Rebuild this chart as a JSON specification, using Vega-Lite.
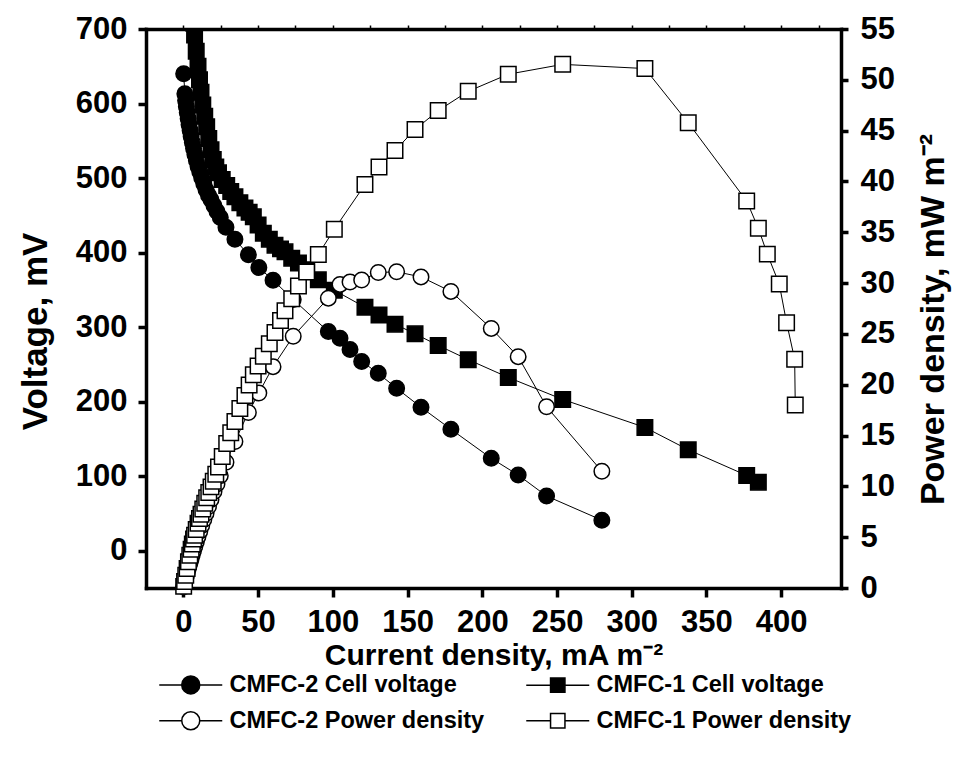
{
  "$schema": "https://vega.github.io/schema/vega-lite/v6.json",
  "width": 695,
  "height": 559,
  "autosize": {"type": "none"},
  "padding": {"left": 146, "top": 29, "right": 115, "bottom": 175},
  "background": "white",
  "config": {
    "view": {"stroke": null},
    "axis": {
      "grid": false,
      "domainColor": "black",
      "domainWidth": 3.5,
      "domainCap": "square",
      "tickColor": "black",
      "tickWidth": 3.5,
      "tickSize": 9,
      "labelFont": "Liberation Sans",
      "labelFontWeight": "bold",
      "labelFontSize": 31,
      "labelColor": "black",
      "labelPadding": 10.5,
      "titleFont": "Liberation Sans",
      "titleFontWeight": "bold",
      "titleColor": "black"
    },
    "legend": {
      "title": null,
      "orient": "none",
      "legendX": 33,
      "legendY": 644,
      "direction": "horizontal",
      "columns": 2,
      "padding": 0,
      "symbolSize": 324,
      "symbolStrokeWidth": 1.5,
      "symbolOpacity": 1,
      "labelFont": "Liberation Sans",
      "labelFontWeight": "bold",
      "labelFontSize": 23.5,
      "labelColor": "black",
      "labelLimit": 500,
      "labelOffset": 27,
      "columnPadding": 38,
      "rowPadding": 11
    }
  },
  "data": {
    "values": [
      {"s": "CMFC-2 Cell voltage", "cd": 0.2, "v": 640},
      {"s": "CMFC-2 Cell voltage", "cd": 1.0, "v": 613},
      {"s": "CMFC-2 Cell voltage", "cd": 1.5, "v": 604},
      {"s": "CMFC-2 Cell voltage", "cd": 2.0, "v": 596},
      {"s": "CMFC-2 Cell voltage", "cd": 2.6, "v": 588},
      {"s": "CMFC-2 Cell voltage", "cd": 3.2, "v": 580},
      {"s": "CMFC-2 Cell voltage", "cd": 3.8, "v": 572},
      {"s": "CMFC-2 Cell voltage", "cd": 4.5, "v": 564},
      {"s": "CMFC-2 Cell voltage", "cd": 5.2, "v": 556},
      {"s": "CMFC-2 Cell voltage", "cd": 6.0, "v": 548},
      {"s": "CMFC-2 Cell voltage", "cd": 6.8, "v": 540},
      {"s": "CMFC-2 Cell voltage", "cd": 7.7, "v": 532},
      {"s": "CMFC-2 Cell voltage", "cd": 8.7, "v": 524},
      {"s": "CMFC-2 Cell voltage", "cd": 9.8, "v": 516},
      {"s": "CMFC-2 Cell voltage", "cd": 11.0, "v": 508},
      {"s": "CMFC-2 Cell voltage", "cd": 12.3, "v": 500},
      {"s": "CMFC-2 Cell voltage", "cd": 13.7, "v": 492},
      {"s": "CMFC-2 Cell voltage", "cd": 15.2, "v": 484},
      {"s": "CMFC-2 Cell voltage", "cd": 16.8, "v": 477},
      {"s": "CMFC-2 Cell voltage", "cd": 18.5, "v": 471},
      {"s": "CMFC-2 Cell voltage", "cd": 20.5, "v": 463},
      {"s": "CMFC-2 Cell voltage", "cd": 22.5, "v": 455},
      {"s": "CMFC-2 Cell voltage", "cd": 24.7, "v": 447},
      {"s": "CMFC-2 Cell voltage", "cd": 28.5, "v": 434},
      {"s": "CMFC-2 Cell voltage", "cd": 34.5, "v": 418},
      {"s": "CMFC-2 Cell voltage", "cd": 43.5, "v": 397},
      {"s": "CMFC-2 Cell voltage", "cd": 50.5, "v": 380},
      {"s": "CMFC-2 Cell voltage", "cd": 60, "v": 363},
      {"s": "CMFC-2 Cell voltage", "cd": 73.5, "v": 337},
      {"s": "CMFC-2 Cell voltage", "cd": 97, "v": 294},
      {"s": "CMFC-2 Cell voltage", "cd": 104.8, "v": 285},
      {"s": "CMFC-2 Cell voltage", "cd": 111.5, "v": 270},
      {"s": "CMFC-2 Cell voltage", "cd": 119.3, "v": 254},
      {"s": "CMFC-2 Cell voltage", "cd": 130.4, "v": 238},
      {"s": "CMFC-2 Cell voltage", "cd": 142.7, "v": 218},
      {"s": "CMFC-2 Cell voltage", "cd": 159, "v": 192.5},
      {"s": "CMFC-2 Cell voltage", "cd": 179, "v": 163},
      {"s": "CMFC-2 Cell voltage", "cd": 206, "v": 124},
      {"s": "CMFC-2 Cell voltage", "cd": 224, "v": 101.6},
      {"s": "CMFC-2 Cell voltage", "cd": 243, "v": 73.4},
      {"s": "CMFC-2 Cell voltage", "cd": 280, "v": 41},

      {"s": "CMFC-1 Cell voltage", "cd": 0.2, "v": 798},
      {"s": "CMFC-1 Cell voltage", "cd": 0.8, "v": 790},
      {"s": "CMFC-1 Cell voltage", "cd": 1.6, "v": 781},
      {"s": "CMFC-1 Cell voltage", "cd": 2.5, "v": 771},
      {"s": "CMFC-1 Cell voltage", "cd": 3.4, "v": 760},
      {"s": "CMFC-1 Cell voltage", "cd": 4.3, "v": 748},
      {"s": "CMFC-1 Cell voltage", "cd": 5.2, "v": 735},
      {"s": "CMFC-1 Cell voltage", "cd": 6.0, "v": 722},
      {"s": "CMFC-1 Cell voltage", "cd": 6.8, "v": 708},
      {"s": "CMFC-1 Cell voltage", "cd": 7.5, "v": 692},
      {"s": "CMFC-1 Cell voltage", "cd": 8.6, "v": 670},
      {"s": "CMFC-1 Cell voltage", "cd": 9.8, "v": 650},
      {"s": "CMFC-1 Cell voltage", "cd": 10.8, "v": 632},
      {"s": "CMFC-1 Cell voltage", "cd": 11.8, "v": 615},
      {"s": "CMFC-1 Cell voltage", "cd": 13.0, "v": 598},
      {"s": "CMFC-1 Cell voltage", "cd": 14.3, "v": 583},
      {"s": "CMFC-1 Cell voltage", "cd": 15.6, "v": 569},
      {"s": "CMFC-1 Cell voltage", "cd": 17.0, "v": 553},
      {"s": "CMFC-1 Cell voltage", "cd": 18.5, "v": 538},
      {"s": "CMFC-1 Cell voltage", "cd": 20.0, "v": 525},
      {"s": "CMFC-1 Cell voltage", "cd": 21.7, "v": 515},
      {"s": "CMFC-1 Cell voltage", "cd": 23.5, "v": 507},
      {"s": "CMFC-1 Cell voltage", "cd": 26.0, "v": 498},
      {"s": "CMFC-1 Cell voltage", "cd": 29.0, "v": 490},
      {"s": "CMFC-1 Cell voltage", "cd": 31.7, "v": 482},
      {"s": "CMFC-1 Cell voltage", "cd": 34.5, "v": 475},
      {"s": "CMFC-1 Cell voltage", "cd": 37.8, "v": 467},
      {"s": "CMFC-1 Cell voltage", "cd": 41.2, "v": 460},
      {"s": "CMFC-1 Cell voltage", "cd": 44.0, "v": 454},
      {"s": "CMFC-1 Cell voltage", "cd": 46.8, "v": 448},
      {"s": "CMFC-1 Cell voltage", "cd": 50.0, "v": 437},
      {"s": "CMFC-1 Cell voltage", "cd": 53.5, "v": 426},
      {"s": "CMFC-1 Cell voltage", "cd": 57.5, "v": 418},
      {"s": "CMFC-1 Cell voltage", "cd": 61.3, "v": 410},
      {"s": "CMFC-1 Cell voltage", "cd": 65.0, "v": 405},
      {"s": "CMFC-1 Cell voltage", "cd": 68.0, "v": 401},
      {"s": "CMFC-1 Cell voltage", "cd": 72.5, "v": 392.5},
      {"s": "CMFC-1 Cell voltage", "cd": 77.0, "v": 386},
      {"s": "CMFC-1 Cell voltage", "cd": 82.5, "v": 377},
      {"s": "CMFC-1 Cell voltage", "cd": 90.3, "v": 363.5},
      {"s": "CMFC-1 Cell voltage", "cd": 101, "v": 349.5},
      {"s": "CMFC-1 Cell voltage", "cd": 121.5, "v": 326.7},
      {"s": "CMFC-1 Cell voltage", "cd": 130.9, "v": 316.4},
      {"s": "CMFC-1 Cell voltage", "cd": 141.6, "v": 304},
      {"s": "CMFC-1 Cell voltage", "cd": 155, "v": 291},
      {"s": "CMFC-1 Cell voltage", "cd": 170.5, "v": 275.5},
      {"s": "CMFC-1 Cell voltage", "cd": 190.6, "v": 256.4},
      {"s": "CMFC-1 Cell voltage", "cd": 217.4, "v": 232.5},
      {"s": "CMFC-1 Cell voltage", "cd": 253.8, "v": 203},
      {"s": "CMFC-1 Cell voltage", "cd": 308.8, "v": 165.5},
      {"s": "CMFC-1 Cell voltage", "cd": 337.8, "v": 135.5},
      {"s": "CMFC-1 Cell voltage", "cd": 376.9, "v": 101},
      {"s": "CMFC-1 Cell voltage", "cd": 384.7, "v": 92},

      {"s": "CMFC-2 Power density", "cd": 0.2, "v": 0.13},
      {"s": "CMFC-2 Power density", "cd": 1.0, "v": 0.61},
      {"s": "CMFC-2 Power density", "cd": 1.5, "v": 0.91},
      {"s": "CMFC-2 Power density", "cd": 2.0, "v": 1.19},
      {"s": "CMFC-2 Power density", "cd": 2.6, "v": 1.53},
      {"s": "CMFC-2 Power density", "cd": 3.2, "v": 1.86},
      {"s": "CMFC-2 Power density", "cd": 3.8, "v": 2.17},
      {"s": "CMFC-2 Power density", "cd": 4.5, "v": 2.54},
      {"s": "CMFC-2 Power density", "cd": 5.2, "v": 2.89},
      {"s": "CMFC-2 Power density", "cd": 6.0, "v": 3.29},
      {"s": "CMFC-2 Power density", "cd": 6.8, "v": 3.67},
      {"s": "CMFC-2 Power density", "cd": 7.7, "v": 4.10},
      {"s": "CMFC-2 Power density", "cd": 8.7, "v": 4.56},
      {"s": "CMFC-2 Power density", "cd": 9.8, "v": 5.06},
      {"s": "CMFC-2 Power density", "cd": 11.0, "v": 5.59},
      {"s": "CMFC-2 Power density", "cd": 12.3, "v": 6.15},
      {"s": "CMFC-2 Power density", "cd": 13.7, "v": 6.74},
      {"s": "CMFC-2 Power density", "cd": 15.2, "v": 7.36},
      {"s": "CMFC-2 Power density", "cd": 16.8, "v": 8.01},
      {"s": "CMFC-2 Power density", "cd": 18.5, "v": 8.71},
      {"s": "CMFC-2 Power density", "cd": 20.5, "v": 9.49},
      {"s": "CMFC-2 Power density", "cd": 22.5, "v": 10.24},
      {"s": "CMFC-2 Power density", "cd": 24.7, "v": 11.04},
      {"s": "CMFC-2 Power density", "cd": 28.5, "v": 12.37},
      {"s": "CMFC-2 Power density", "cd": 34.5, "v": 14.42},
      {"s": "CMFC-2 Power density", "cd": 43.5, "v": 17.27},
      {"s": "CMFC-2 Power density", "cd": 50.5, "v": 19.19},
      {"s": "CMFC-2 Power density", "cd": 60, "v": 21.78},
      {"s": "CMFC-2 Power density", "cd": 73.5, "v": 24.77},
      {"s": "CMFC-2 Power density", "cd": 97, "v": 28.52},
      {"s": "CMFC-2 Power density", "cd": 104.8, "v": 29.87},
      {"s": "CMFC-2 Power density", "cd": 111.5, "v": 30.11},
      {"s": "CMFC-2 Power density", "cd": 119.3, "v": 30.30},
      {"s": "CMFC-2 Power density", "cd": 130.4, "v": 31.04},
      {"s": "CMFC-2 Power density", "cd": 142.7, "v": 31.11},
      {"s": "CMFC-2 Power density", "cd": 159, "v": 30.61},
      {"s": "CMFC-2 Power density", "cd": 179, "v": 29.18},
      {"s": "CMFC-2 Power density", "cd": 206, "v": 25.54},
      {"s": "CMFC-2 Power density", "cd": 224, "v": 22.76},
      {"s": "CMFC-2 Power density", "cd": 243, "v": 17.84},
      {"s": "CMFC-2 Power density", "cd": 280, "v": 11.48},

      {"s": "CMFC-1 Power density", "cd": 0.2, "v": 0.16},
      {"s": "CMFC-1 Power density", "cd": 0.8, "v": 0.63},
      {"s": "CMFC-1 Power density", "cd": 1.6, "v": 1.25},
      {"s": "CMFC-1 Power density", "cd": 2.5, "v": 1.93},
      {"s": "CMFC-1 Power density", "cd": 3.4, "v": 2.58},
      {"s": "CMFC-1 Power density", "cd": 4.3, "v": 3.22},
      {"s": "CMFC-1 Power density", "cd": 5.2, "v": 3.82},
      {"s": "CMFC-1 Power density", "cd": 6.0, "v": 4.33},
      {"s": "CMFC-1 Power density", "cd": 6.8, "v": 4.81},
      {"s": "CMFC-1 Power density", "cd": 7.5, "v": 5.19},
      {"s": "CMFC-1 Power density", "cd": 8.6, "v": 5.76},
      {"s": "CMFC-1 Power density", "cd": 9.8, "v": 6.37},
      {"s": "CMFC-1 Power density", "cd": 10.8, "v": 6.83},
      {"s": "CMFC-1 Power density", "cd": 11.8, "v": 7.26},
      {"s": "CMFC-1 Power density", "cd": 13.0, "v": 7.77},
      {"s": "CMFC-1 Power density", "cd": 14.3, "v": 8.34},
      {"s": "CMFC-1 Power density", "cd": 15.6, "v": 8.88},
      {"s": "CMFC-1 Power density", "cd": 17.0, "v": 9.40},
      {"s": "CMFC-1 Power density", "cd": 18.5, "v": 9.95},
      {"s": "CMFC-1 Power density", "cd": 20.0, "v": 10.50},
      {"s": "CMFC-1 Power density", "cd": 21.7, "v": 11.18},
      {"s": "CMFC-1 Power density", "cd": 23.5, "v": 11.91},
      {"s": "CMFC-1 Power density", "cd": 26.0, "v": 12.95},
      {"s": "CMFC-1 Power density", "cd": 29.0, "v": 14.21},
      {"s": "CMFC-1 Power density", "cd": 31.7, "v": 15.28},
      {"s": "CMFC-1 Power density", "cd": 34.5, "v": 16.39},
      {"s": "CMFC-1 Power density", "cd": 37.8, "v": 17.65},
      {"s": "CMFC-1 Power density", "cd": 41.2, "v": 18.95},
      {"s": "CMFC-1 Power density", "cd": 44.0, "v": 19.98},
      {"s": "CMFC-1 Power density", "cd": 46.8, "v": 20.97},
      {"s": "CMFC-1 Power density", "cd": 50.0, "v": 21.85},
      {"s": "CMFC-1 Power density", "cd": 53.5, "v": 22.79},
      {"s": "CMFC-1 Power density", "cd": 57.5, "v": 24.04},
      {"s": "CMFC-1 Power density", "cd": 61.3, "v": 25.13},
      {"s": "CMFC-1 Power density", "cd": 65.0, "v": 26.33},
      {"s": "CMFC-1 Power density", "cd": 68.0, "v": 27.27},
      {"s": "CMFC-1 Power density", "cd": 72.5, "v": 28.46},
      {"s": "CMFC-1 Power density", "cd": 77.0, "v": 29.72},
      {"s": "CMFC-1 Power density", "cd": 82.5, "v": 31.10},
      {"s": "CMFC-1 Power density", "cd": 90.3, "v": 32.82},
      {"s": "CMFC-1 Power density", "cd": 101, "v": 35.30},
      {"s": "CMFC-1 Power density", "cd": 121.5, "v": 39.69},
      {"s": "CMFC-1 Power density", "cd": 130.9, "v": 41.42},
      {"s": "CMFC-1 Power density", "cd": 141.6, "v": 43.05},
      {"s": "CMFC-1 Power density", "cd": 155, "v": 45.11},
      {"s": "CMFC-1 Power density", "cd": 170.5, "v": 46.97},
      {"s": "CMFC-1 Power density", "cd": 190.6, "v": 48.87},
      {"s": "CMFC-1 Power density", "cd": 217.4, "v": 50.55},
      {"s": "CMFC-1 Power density", "cd": 253.8, "v": 51.52},
      {"s": "CMFC-1 Power density", "cd": 308.8, "v": 51.11},
      {"s": "CMFC-1 Power density", "cd": 337.8, "v": 45.77},
      {"s": "CMFC-1 Power density", "cd": 376.9, "v": 38.07},
      {"s": "CMFC-1 Power density", "cd": 384.7, "v": 35.39},
      {"s": "CMFC-1 Power density", "cd": 390.7, "v": 32.85},
      {"s": "CMFC-1 Power density", "cd": 398.7, "v": 29.9},
      {"s": "CMFC-1 Power density", "cd": 403.6, "v": 26.1},
      {"s": "CMFC-1 Power density", "cd": 409.0, "v": 22.5},
      {"s": "CMFC-1 Power density", "cd": 409.4, "v": 18.0}
    ]
  },
  "layer": [
    {
      "transform": [{"filter": "indexof(datum.s, 'voltage') >= 0"}],
      "encoding": {
        "x": {
          "field": "cd", "type": "quantitative",
          "scale": {"domain": [-25, 440], "nice": false, "zero": false},
          "axis": {
            "orient": "bottom",
            "values": [0, 50, 100, 150, 200, 250, 300, 350, 400],
            "tickSize": 9,
            "labelPadding": 10.5,
            "title": "Current density, mA m⁻²",
            "titleFontSize": 30,
            "titlePadding": 3
          }
        },
        "y": {
          "field": "v", "type": "quantitative",
          "scale": {"domain": [-50, 700], "nice": false, "zero": false},
          "axis": {
            "orient": "left",
            "values": [0, 100, 200, 300, 400, 500, 600, 700],
            "tickSize": 8,
            "labelPadding": 11,
            "title": "Voltage, mV",
            "titleFontSize": 35,
            "titlePadding": 22,
            "titleY": 302
          }
        }
      },
      "layer": [
        {
          "mark": {"type": "line", "color": "black", "strokeWidth": 1, "clip": true},
          "encoding": {"detail": {"field": "s"}}
        },
        {
          "transform": [{"filter": "datum.s === 'CMFC-1 Cell voltage'"}],
          "mark": {"type": "point", "shape": "square", "filled": true, "fill": "black", "size": 240, "stroke": "black", "strokeWidth": 1.5, "opacity": 1, "clip": true}
        },
        {
          "transform": [{"filter": "datum.s === 'CMFC-2 Cell voltage'"}],
          "mark": {"type": "point", "shape": "circle", "filled": true, "fill": "black", "size": 240, "stroke": "black", "strokeWidth": 1.5, "opacity": 1, "clip": true}
        }
      ]
    },
    {
      "transform": [{"filter": "indexof(datum.s, 'Power') >= 0"}],
      "encoding": {
        "x": {
          "field": "cd", "type": "quantitative",
          "scale": {"domain": [-25, 440], "nice": false, "zero": false},
          "axis": {
            "orient": "top",
            "values": [0, 25, 50, 75, 100, 125, 150, 175, 200, 225, 250, 275, 300, 325, 350, 375, 400, 425],
            "labels": false,
            "tickSize": 4,
            "tickWidth": 1.5,
            "title": null
          }
        },
        "y": {
          "field": "v", "type": "quantitative",
          "scale": {"domain": [0, 55], "nice": false, "zero": false},
          "axis": {
            "orient": "right",
            "values": [0, 5, 10, 15, 20, 25, 30, 35, 40, 45, 50, 55],
            "tickSize": 7,
            "labelPadding": 12,
            "title": "Power density, mW m⁻²",
            "titleFontSize": 34,
            "titleAngle": 270,
            "titleBaseline": "top",
            "titlePadding": 22,
            "titleY": 290
          }
        }
      },
      "layer": [
        {
          "mark": {"type": "line", "color": "black", "strokeWidth": 1},
          "encoding": {"detail": {"field": "s"}}
        },
        {
          "transform": [{"filter": "datum.s === 'CMFC-2 Power density'"}],
          "mark": {"type": "point", "shape": "circle", "filled": true, "fill": "white", "size": 240, "stroke": "black", "strokeWidth": 1.5, "opacity": 1}
        },
        {
          "transform": [{"filter": "datum.s === 'CMFC-1 Power density'"}],
          "mark": {"type": "point", "shape": "square", "filled": true, "fill": "white", "size": 240, "stroke": "black", "strokeWidth": 1.5, "opacity": 1}
        }
      ]
    },
    {
      "transform": [{"filter": "false"}],
      "mark": {"type": "point", "filled": true, "size": 324, "strokeWidth": 1.5, "opacity": 1},
      "encoding": {
        "shape": {
          "field": "s", "type": "nominal",
          "scale": {
            "domain": ["CMFC-2 Cell voltage", "CMFC-1 Cell voltage", "CMFC-2 Power density", "CMFC-1 Power density"],
            "range": [
              "M-3.5,0H-1M1,0H3.5M-1,0A1,1,0,1,1,1,0A1,1,0,1,1,-1,0Z",
              "M-3.5,0H-0.8M0.8,0H3.5M-0.8,-0.8H0.8V0.8H-0.8Z",
              "M-3.5,0H-1M1,0H3.5M-1,0A1,1,0,1,1,1,0A1,1,0,1,1,-1,0Z",
              "M-3.5,0H-0.8M0.8,0H3.5M-0.8,-0.8H0.8V0.8H-0.8Z"
            ]
          }
        },
        "fill": {
          "field": "s", "type": "nominal",
          "scale": {
            "domain": ["CMFC-2 Cell voltage", "CMFC-1 Cell voltage", "CMFC-2 Power density", "CMFC-1 Power density"],
            "range": ["black", "black", "white", "white"]
          }
        },
        "stroke": {
          "field": "s", "type": "nominal",
          "scale": {
            "domain": ["CMFC-2 Cell voltage", "CMFC-1 Cell voltage", "CMFC-2 Power density", "CMFC-1 Power density"],
            "range": ["black", "black", "black", "black"]
          }
        }
      }
    }
  ],
  "resolve": {
    "scale": {"y": "independent"},
    "axis": {"x": "independent", "y": "independent"}
  }
}
